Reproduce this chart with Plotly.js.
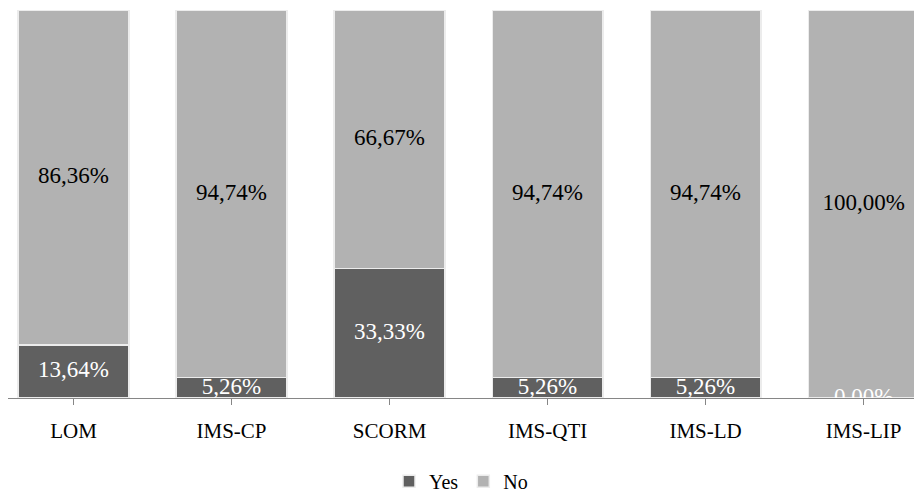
<!DOCTYPE html>
<html>
<head>
<meta charset="utf-8">
<script src="https://cdn.plot.ly/plotly-3.0.1.min.js"></script>
<style>html,body{margin:0;padding:0;background:#fff;}#chart{width:914px;height:502px;}</style>
</head>
<body>
<div id="chart"></div>
<script>
const categories = ["LOM", "IMS-CP", "SCORM", "IMS-QTI", "IMS-LD", "IMS-LIP"];
const yesValues = [13.64, 5.26, 33.33, 5.26, 5.26, 0.00];
const noValues = [86.36, 94.74, 66.67, 94.74, 94.74, 100.00];
const seriesNames = ["Yes", "No"];
const seriesColors = ["#606060", "#b2b2b2"];

const FONT = "Liberation Serif";
const fmt = v => v.toFixed(2).replace(".", ",") + "%";
const idx = categories.map((c, i) => i);

const barLine = {color: "#ececec", width: 1.5};
const traces = [
  {type: "bar", name: seriesNames[0], x: idx, y: yesValues.map(v => v / 100),
   width: 0.7, marker: {color: seriesColors[0], line: barLine}, hoverinfo: "none"},
  {type: "bar", name: seriesNames[1], x: idx, y: noValues.map(v => v / 100),
   width: 0.7, marker: {color: seriesColors[1], line: barLine}, hoverinfo: "none"},
  {type: "scatter", mode: "text", showlegend: false, x: idx,
   y: yesValues.map(v => v / 200), text: yesValues.map(fmt),
   textposition: "middle center", cliponaxis: true,
   textfont: {family: FONT, size: 23, color: "#ffffff"}, hoverinfo: "none"},
  {type: "scatter", mode: "text", showlegend: false, x: idx,
   y: yesValues.map((v, i) => (v + noValues[i] / 2) / 100), text: noValues.map(fmt),
   textposition: "middle center", cliponaxis: true,
   textfont: {family: FONT, size: 23, color: "#000000"}, hoverinfo: "none"}
];

const layout = {
  width: 914, height: 502,
  margin: {l: 8, r: 0, t: 10, b: 104},
  paper_bgcolor: "#ffffff", plot_bgcolor: "#ffffff",
  barmode: "stack",
  showlegend: true,
  legend: {orientation: "h", x: 0.5, xanchor: "center", y: -0.265, yanchor: "bottom",
           font: {family: FONT, size: 20, color: "#000"},
           itemwidth: 30, traceorder: "normal"},
  xaxis: {
    range: [-0.4146, 5.319], tickmode: "array", tickvals: idx, ticktext: categories,
    tickson: "boundaries", ticks: "outside", ticklen: 6, tickcolor: "#868686",
    ticklabelstandoff: 8,
    showline: true, linecolor: "#868686", linewidth: 1, showgrid: false, zeroline: false,
    tickfont: {family: FONT, size: 21, color: "#000"},
    fixedrange: true
  },
  yaxis: {range: [0, 1], visible: false, showgrid: false, zeroline: false, fixedrange: true},
  font: {family: FONT}
};

Plotly.newPlot("chart", traces, layout, {displayModeBar: false, staticPlot: true});
</script>
</body>
</html>
